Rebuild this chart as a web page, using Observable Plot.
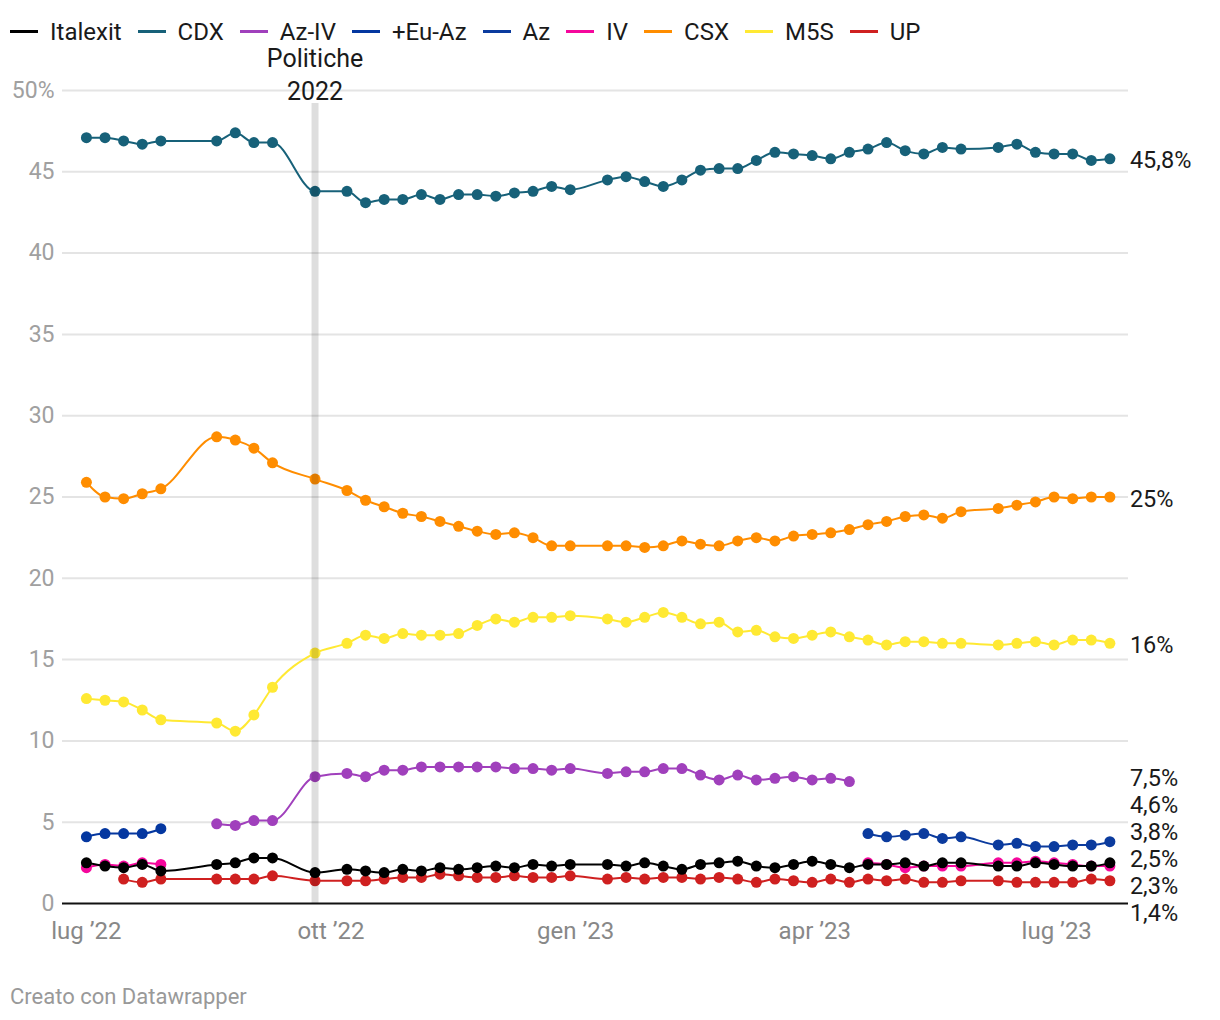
<!DOCTYPE html>
<html>
<head>
<meta charset="utf-8">
<script src="https://cdn.jsdelivr.net/npm/d3@7"></script>
<script src="https://cdn.jsdelivr.net/npm/@observablehq/plot@0.6"></script>
<style>
  html, body { margin: 0; padding: 0; background: #fff; }
  body { width: 1220px; height: 1020px; overflow: hidden; font-family: Roboto, sans-serif; }
  #legend { height: 45px; box-sizing: border-box; padding: 18px 0 0 10px; display: flex; align-items: center; font-size: 24px; color: #1a1a1a; line-height: 22px; }
  .item { display: flex; align-items: center; margin-right: 16px; }
  .sw { width: 28px; height: 2.5px; margin-right: 12px; }
  #chart svg { display: block; }
  #footer { margin-top: 20px; padding-left: 10px; font-size: 22px; color: #999; line-height: 24px; }
</style>
</head>
<body>
<div id="legend"></div>
<div id="chart"></div>
<div id="footer">Creato con Datawrapper</div>
<script>
// ---- data ----
const dates = ["2022-07-01","2022-07-08","2022-07-15","2022-07-22","2022-07-29","2022-08-19","2022-08-26","2022-09-02","2022-09-09","2022-09-25",
  "2022-10-07","2022-10-14","2022-10-21","2022-10-28","2022-11-04","2022-11-11","2022-11-18","2022-11-25","2022-12-02","2022-12-09","2022-12-16","2022-12-23","2022-12-30",
  "2023-01-13","2023-01-20","2023-01-27","2023-02-03","2023-02-10","2023-02-17","2023-02-24","2023-03-03","2023-03-10","2023-03-17","2023-03-24","2023-03-31",
  "2023-04-07","2023-04-14","2023-04-21","2023-04-28","2023-05-05","2023-05-12","2023-05-19","2023-05-26","2023-06-09","2023-06-16","2023-06-23","2023-06-30",
  "2023-07-07","2023-07-14","2023-07-21"];

const seriesNames = ["Italexit","CDX","Az-IV","+Eu-Az","Az","IV","CSX","M5S","UP"];
const seriesColors = ["#000000","#176179","#a040bc","#0437a0","#0b3b9e","#f5079c","#ff8d00","#ffe933","#cf2020"];

const italexit = [2.5,2.3,2.2,2.4,2.0,2.4,2.5,2.8,2.8,1.9,
  2.1,2.0,1.9,2.1,2.0,2.2,2.1,2.2,2.3,2.2,2.4,2.3,2.4,
  2.4,2.3,2.5,2.3,2.1,2.4,2.5,2.6,2.3,2.2,2.4,2.6,2.4,2.2,2.4,2.4,2.5,2.3,2.5,2.5,2.3,2.3,2.5,2.4,2.3,2.3,2.5];
const cdx = [47.1,47.1,46.9,46.7,46.9,46.9,47.4,46.8,46.8,43.8,
  43.8,43.1,43.3,43.3,43.6,43.3,43.6,43.6,43.5,43.7,43.8,44.1,43.9,
  44.5,44.7,44.4,44.1,44.5,45.1,45.2,45.2,45.7,46.2,46.1,46.0,45.8,46.2,46.4,46.8,46.3,46.1,46.5,46.4,46.5,46.7,46.2,46.1,46.1,45.7,45.8];
const azIv = [null,null,null,null,null,4.9,4.8,5.1,5.1,7.8,
  8.0,7.8,8.2,8.2,8.4,8.4,8.4,8.4,8.4,8.3,8.3,8.2,8.3,
  8.0,8.1,8.1,8.3,8.3,7.9,7.6,7.9,7.6,7.7,7.8,7.6,7.7,7.5,
  null,null,null,null,null,null,null,null,null,null,null,null,null];
const euAz = [4.1,4.3,4.3,4.3,4.6,null,null,null,null,null,
  null,null,null,null,null,null,null,null,null,null,null,null,null,
  null,null,null,null,null,null,null,null,null,null,null,null,null,null,
  null,null,null,null,null,null,null,null,null,null,null,null,null];
const az = [null,null,null,null,null,null,null,null,null,null,
  null,null,null,null,null,null,null,null,null,null,null,null,null,
  null,null,null,null,null,null,null,null,null,null,null,null,null,null,
  4.3,4.1,4.2,4.3,4.0,4.1,3.6,3.7,3.5,3.5,3.6,3.6,3.8];
const iv = [2.2,2.4,2.3,2.5,2.4,null,null,null,null,null,
  null,null,null,null,null,null,null,null,null,null,null,null,null,
  null,null,null,null,null,null,null,null,null,null,null,null,null,null,
  2.5,2.4,2.2,2.3,2.3,2.3,2.5,2.5,2.6,2.5,2.4,2.3,2.3];
const csx = [25.9,25.0,24.9,25.2,25.5,28.7,28.5,28.0,27.1,26.1,
  25.4,24.8,24.4,24.0,23.8,23.5,23.2,22.9,22.7,22.8,22.5,22.0,22.0,
  22.0,22.0,21.9,22.0,22.3,22.1,22.0,22.3,22.5,22.3,22.6,22.7,22.8,23.0,23.3,23.5,23.8,23.9,23.7,24.1,24.3,24.5,24.7,25.0,24.9,25.0,25.0];
const m5s = [12.6,12.5,12.4,11.9,11.3,11.1,10.6,11.6,13.3,15.4,
  16.0,16.5,16.3,16.6,16.5,16.5,16.6,17.1,17.5,17.3,17.6,17.6,17.7,
  17.5,17.3,17.6,17.9,17.6,17.2,17.3,16.7,16.8,16.4,16.3,16.5,16.7,16.4,16.2,15.9,16.1,16.1,16.0,16.0,15.9,16.0,16.1,15.9,16.2,16.2,16.0];
const up = [null,null,1.5,1.3,1.5,1.5,1.5,1.5,1.7,1.4,
  1.4,1.4,1.5,1.6,1.6,1.8,1.7,1.6,1.6,1.7,1.6,1.6,1.7,
  1.5,1.6,1.5,1.6,1.6,1.5,1.6,1.5,1.3,1.5,1.4,1.3,1.5,1.3,1.5,1.4,1.5,1.3,1.3,1.4,1.4,1.3,1.3,1.3,1.3,1.5,1.4];

const seriesValues = [italexit, cdx, azIv, euAz, az, iv, csx, m5s, up];

const yTicks = [0,5,10,15,20,25,30,35,40,45,50];
const xTickDates = ["2022-07-01","2022-10-01","2023-01-01","2023-04-01","2023-07-01"];
const monthNames = ["gen","feb","mar","apr","mag","giu","lug","ago","set","ott","nov","dic"];
const electionDate = "2022-09-25";
const annotationText = "Politiche\n2022";
const xDomain = ["2022-06-22","2023-07-28"];

// ---- build ----
const parse = d3.utcParse("%Y-%m-%d");
const series = seriesNames.map((name, k) => ({
  name, color: seriesColors[k],
  rows: dates.map((d, i) => ({ date: parse(d), value: seriesValues[k][i] }))
}));

// legend
const legend = document.getElementById("legend");
series.forEach(s => {
  const it = document.createElement("div");
  it.className = "item";
  it.innerHTML = `<span class="sw" style="background:${s.color}"></span><span>${s.name}</span>`;
  legend.appendChild(it);
});

const W = 1220, H = 920, mT = 45, mB = 62, mL = 62, mR = 92;
const pxPerUnit = (H - mT - mB) / 50;

// end labels with dodging
const fmt = v => (Number.isInteger(v) ? String(v) : v.toFixed(1).replace(".", ",")) + "%";
const lastDate = parse(dates[dates.length - 1]);
const labelShift = 2, gap = 27;
let labels = series.map(s => {
  const vals = s.rows.filter(r => r.value != null);
  const v = vals[vals.length - 1].value;
  return { v, text: fmt(v), px: (50 - v) * pxPerUnit + labelShift };
}).sort((a, b) => a.px - b.px);
let clusters = labels.map(l => ({ items: [l], top: l.px }));
let changed = true;
while (changed) {
  changed = false;
  for (let i = 0; i < clusters.length - 1; i++) {
    const a = clusters[i], b = clusters[i + 1];
    if (a.top + a.items.length * gap > b.top) {
      const items = a.items.concat(b.items);
      const mean = d3.mean(items, d => d.px);
      clusters.splice(i, 2, { items, top: mean - (items.length - 1) * gap / 2 });
      changed = true;
      break;
    }
  }
}
clusters.forEach(c => c.items.forEach((it, j) => { it.ly = 50 - (c.top + j * gap) / pxPerUnit; }));

const marks = [
  Plot.ruleY(yTicks.filter(d => d > 0), { stroke: "#e4e4e4", strokeWidth: 2 }),
  Plot.axisY({ ticks: yTicks, tickSize: 0, tickPadding: 8, tickFormat: d => d === 50 ? "50%" : String(d), color: "#a0a0a0", fontSize: 23 }),
  Plot.axisX({ ticks: xTickDates.map(parse), tickSize: 0, tickPadding: 18, tickFormat: d => `${monthNames[d.getUTCMonth()]} ’${String(d.getUTCFullYear()).slice(2)}`, color: "#888", fontSize: 24 }),
  Plot.ruleY([0], { stroke: "#111", strokeWidth: 2 })
];
series.slice().reverse().forEach(s => {
  marks.push(Plot.line(s.rows, { x: "date", y: "value", stroke: s.color, strokeWidth: 2, curve: "monotone-x" }));
  marks.push(Plot.dot(s.rows.filter(r => r.value != null), { x: "date", y: "value", fill: s.color, r: 5.5 }));
});
marks.push(Plot.ruleX([parse(electionDate)], { y1: 0, y2: 49.2, stroke: "#000", strokeOpacity: 0.13, strokeWidth: 7 }));
marks.push(Plot.text([{ date: parse(electionDate), y: 50 }], { x: "date", y: "y", text: () => annotationText, lineAnchor: "bottom", lineHeight: 1.3, dy: 9, fontSize: 25, fill: "#1a1a1a" }));
marks.push(Plot.text(labels, { x: () => lastDate, y: "ly", text: "text", textAnchor: "start", dx: 20, fontSize: 23.5, fill: "#1a1a1a" }));

const chart = Plot.plot({
  width: W, height: H,
  marginTop: mT, marginBottom: mB, marginLeft: mL, marginRight: mR,
  x: { type: "utc", domain: xDomain.map(parse) },
  y: { domain: [0, 50] },
  style: { fontFamily: "Roboto, sans-serif", background: "#fff", overflow: "visible" },
  marks
});
document.getElementById("chart").appendChild(chart);
</script>
</body>
</html>
